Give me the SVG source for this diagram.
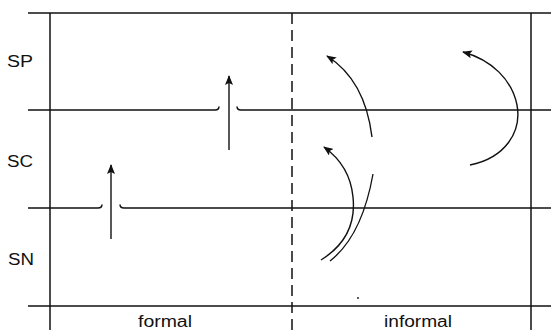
<svg xmlns="http://www.w3.org/2000/svg" width="551" height="330" viewBox="0 0 551 330">
<defs>
<marker id="ah" markerWidth="10" markerHeight="8" refX="9" refY="4" orient="auto" markerUnits="userSpaceOnUse">
<path d="M0,0 L10,4 L0,8 L2,4 Z" fill="#111"/>
</marker>
<style>
.ln{stroke:#111;stroke-width:1.5;fill:none}
.dash{stroke:#111;stroke-width:1.5;fill:none;stroke-dasharray:11 6}
.arr{stroke:#111;stroke-width:1.4;fill:none;marker-end:url(#ah)}
.cv{stroke:#111;stroke-width:1.3;fill:none}
.t{font-family:"Liberation Sans",Arial,sans-serif;font-size:16px;fill:#111}
</style>
</defs>
<rect width="551" height="330" fill="#fff"/>
<g id="grid">
<path class="ln" d="M28,13 L551,13"/>
<path class="ln" d="M28,110 L215,110 Q219,110 219,106.5"/>
<path class="ln" d="M237,106.5 Q237,110 241,110 L551,110"/>
<path class="ln" d="M28,208 L98,208 Q102,208 102,204.5"/>
<path class="ln" d="M120,204.5 Q120,208 124,208 L551,208"/>
<path class="ln" d="M28,306 L551,306"/>
<path class="ln" d="M50,13 L50,330"/>
<path class="ln" d="M531,13 L531,330"/>
<path class="dash" d="M292,13 L292,330"/>
</g>
<g id="labels">
<text class="t" x="7" y="67" textLength="26" lengthAdjust="spacingAndGlyphs">SP</text>
<text class="t" x="7" y="167" textLength="26" lengthAdjust="spacingAndGlyphs">SC</text>
<text class="t" x="8" y="265" textLength="26" lengthAdjust="spacingAndGlyphs">SN</text>
<text class="t" x="138" y="327" textLength="54" lengthAdjust="spacingAndGlyphs">formal</text>
<text class="t" x="384" y="327" textLength="68" lengthAdjust="spacingAndGlyphs">informal</text>
</g>
<g id="connectors">
<path class="arr" d="M229,150 L229,76"/>
<path class="arr" d="M111,239 L111,165"/>
<path class="arr" d="M372,137 Q365,80 327,56"/>
<path class="arr" d="M470,165 C505,158 522,132 517,105 C512,80 492,60 463,52"/>
<path class="arr" d="M321,260 C345,245 356,225 353,197 C351,176 342,160 324,147"/>
<path class="cv" d="M330,261 Q362,236 373,174"/>
<circle cx="358" cy="298" r="0.9" fill="#111"/>
</g>
</svg>
